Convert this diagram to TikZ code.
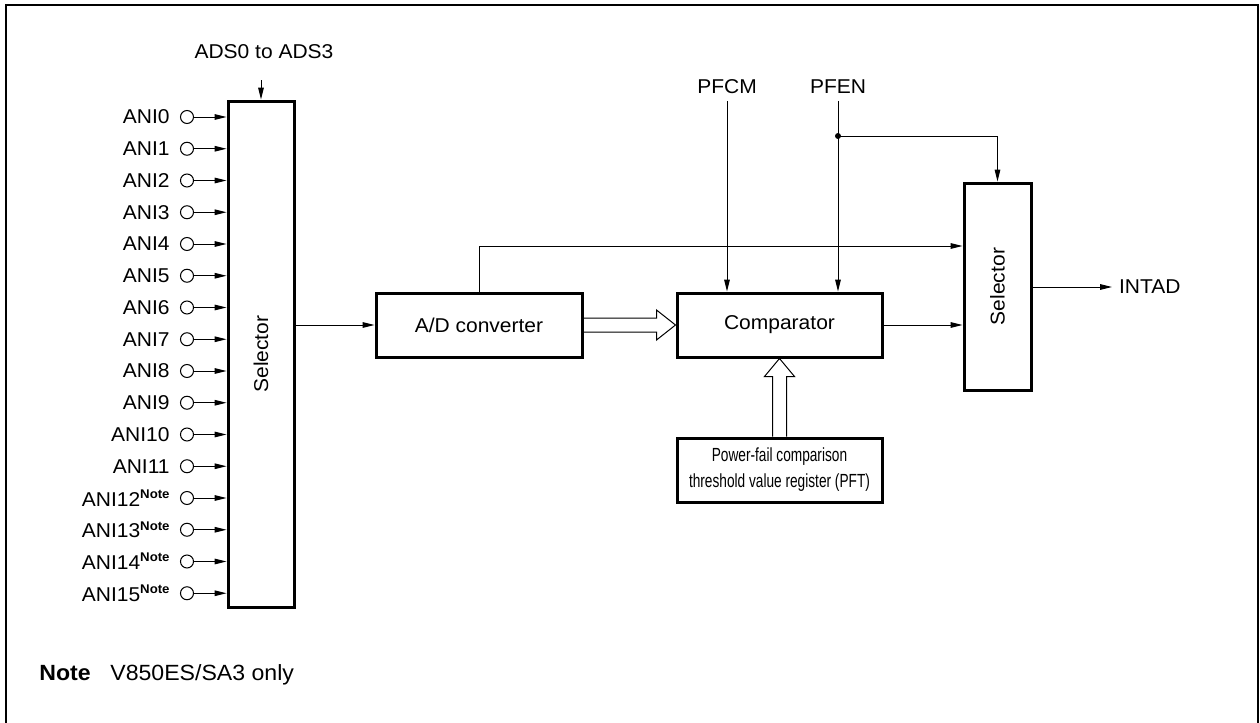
\documentclass[tikz,border=0pt]{standalone}
\usepackage{fontspec}
\setmainfont{Liberation Sans}[FakeStretch=1.05]
\newfontfamily\pftfont{Liberation Sans}[FakeStretch=0.72]
\usetikzlibrary{arrows.meta,calc}
\begin{document}
\begin{tikzpicture}[x=0.5pt,y=-0.5pt,
  every node/.style={font=\fontsize{10}{12}\selectfont},
  box/.style={draw,line width=1.5pt,inner sep=0pt},
  sig/.style={line width=0.5pt,-{Triangle[length=6pt,width=2.8pt]}},
  hollow/.style={line width=0.5pt},
  port/.style={circle,draw,line width=0.5pt,minimum size=6.5pt,inner sep=0pt},
  dot/.style={circle,fill,minimum size=3pt,inner sep=0pt}
]
\useasboundingbox (0,0) rectangle (1260,723);
\draw[line width=1.2pt] (6,723) -- (6,5) -- (1258,5) -- (1258,723);

% boxes
\node[box,minimum width=33pt,minimum height=253pt] (sel1) at (261,354) {};
\node[rotate=90] (sel1t) at (sel1.center) {Selector};
\node[box,minimum width=103pt,minimum height=32pt] (ad) at (479,325) {A/D converter};
\node[box,minimum width=102.5pt,minimum height=32pt] (cmp) at (779.5,325) {Comparator};
\node[box,minimum width=102.5pt,minimum height=32pt,align=center,
  font=\pftfont\fontsize{9.5}{13}\selectfont] (pft) at (779.5,470)
  {Power-fail comparison\\threshold value register (PFT)};
\node[box,minimum width=33.5pt,minimum height=103.5pt] (sel2) at (997.5,286.5) {};
\node[rotate=90] (sel2t) at (sel2.center) {Selector};

% inputs
\foreach \i in {0,...,15}{
  \node[port] (c\i) at (187,117+\i*31.75) {};
  \draw[sig] (c\i.east) -- (c\i.east -| sel1.west);
}
\foreach \i in {0,...,11}{
  \node[anchor=east,inner sep=0pt] (l\i) at ($(c\i.west)+(-10,0)$) {ANI\i};
}
\foreach \i in {12,...,15}{
  \node[anchor=east,inner sep=0pt] (l\i) at ($(c\i.west)+(-10,0)$) {ANI\i\raisebox{0.75ex}{\fontsize{6.3}{7}\selectfont\bfseries Note}};
}

% ADS
\node (ads) at (264,52) {ADS0 to ADS3};
\coordinate (adsx) at (261,80);
\draw[sig] (adsx) -- (adsx |- sel1.north);

% selector -> A/D
\draw[sig] (sel1.east |- ad.west) -- (ad.west);

% A/D -> comparator (hollow)
\draw[hollow] ($(ad.east)+(0,-7)$) -- ($(cmp.west)+(-19,-7)$) -- ++(0,-8) -- (cmp.west)
  -- ++(-19,15) -- ++(0,-8) -- ($(ad.east)+(0,7)$);

% PFT -> comparator (hollow)
\draw[hollow] ($(pft.north)+(-7,0)$) -- ($(cmp.south)+(-7,18)$) -- ++(-8,0) -- (cmp.south)
  -- ++(15,18) -- ++(-8,0) -- ($(pft.north)+(7,0)$);

% A/D feed to selector2
\draw[sig] (ad.north) |- ($(sel2.west)+(0,-40.5)$);

% PFCM, PFEN
\node (pfcm) at (727,87) {PFCM};
\draw[sig] (pfcm.south) -- (pfcm.south |- cmp.north);
\node (pfen) at (838,87) {PFEN};
\draw[sig] (pfen.south) -- (pfen.south |- cmp.north);
\node[dot] (jn) at (838,136) {};
\draw[sig] (jn.center) -| (sel2.north);

% comparator -> selector2
\draw[sig] (cmp.east) -- (cmp.east -| sel2.west);

% output
\node[anchor=west] (intad) at (1112,287) {INTAD};
\draw[sig] (sel2.east |- intad.west) -- (intad.west);

% note
\node[anchor=base west,inner sep=0pt,font=\fontsize{11}{13}\selectfont\bfseries] (note) at (39,680) {Note};
\node[anchor=base west,inner sep=0pt,font=\fontsize{11}{13}\selectfont] (notetxt) at (110,680) {V850ES/SA3 only};
\end{tikzpicture}
\end{document}
